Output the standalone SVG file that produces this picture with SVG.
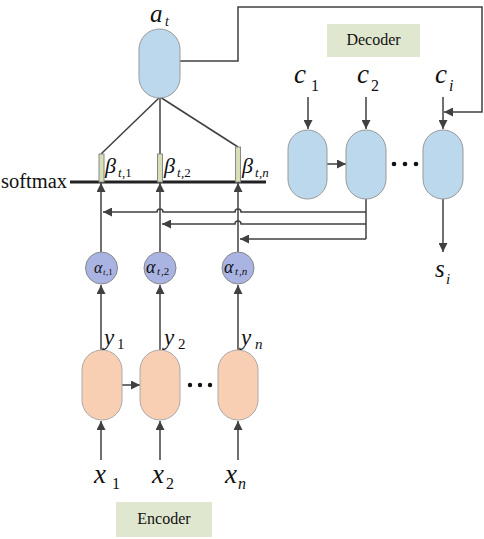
<svg xmlns="http://www.w3.org/2000/svg" width="484" height="539" viewBox="0 0 484 539">
<defs>
<marker id="ah" viewBox="0 0 10 10" refX="10" refY="5" markerWidth="9" markerHeight="9" markerUnits="userSpaceOnUse" orient="auto">
<path d="M0,0 L10,5 L0,10 Z" fill="#404040"/>
</marker>
</defs>
<style>
.ln{stroke:#404040;stroke-width:1.5;fill:none}
.enc{fill:#f9cfb3;stroke:#aaa;stroke-width:1}
.dec{fill:#bcd8ec;stroke:#999;stroke-width:1}
.alp{fill:#aab4e2;stroke:#888;stroke-width:1}
.bar{fill:#d6dfb5;stroke:#888;stroke-width:1}
.box{fill:#e0e7cf}
.m{font-family:"Liberation Serif",serif;font-style:italic;fill:#111}
.t{font-family:"Liberation Serif",serif;fill:#111}
.dot{fill:#111}
</style>
<rect width="484" height="539" fill="#fff"/>

<g id="connectors">
<path class="ln" d="M160,97 L101,154"/>
<path class="ln" d="M160,97 L160,154"/>
<path class="ln" d="M160,97 L238,147"/>
<path class="ln" d="M180,61 H238 V7 H482 V112 H444" marker-end="url(#ah)"/>
<path d="M70,182 H266" stroke="#222" stroke-width="3"/>
<path class="ln" d="M101,252 V183" marker-end="url(#ah)"/>
<path class="ln" d="M160,252 V183" marker-end="url(#ah)"/>
<path class="ln" d="M238,252 V183" marker-end="url(#ah)"/>
<path class="ln" d="M366,199 V239"/>
<path class="ln" d="M366,212 H241 A3,3 0 0 0 235,212 H163 A3,3 0 0 0 157,212 H103" marker-end="url(#ah)"/>
<path class="ln" d="M366,224 H241 A3,3 0 0 0 235,224 H162" marker-end="url(#ah)"/>
<path class="ln" d="M366,239 H240" marker-end="url(#ah)"/>
<path class="ln" d="M101,350 V285" marker-end="url(#ah)"/>
<path class="ln" d="M160,350 V285" marker-end="url(#ah)"/>
<path class="ln" d="M238,350 V285" marker-end="url(#ah)"/>
<path class="ln" d="M101,460 V421" marker-end="url(#ah)"/>
<path class="ln" d="M160,460 V421" marker-end="url(#ah)"/>
<path class="ln" d="M238,460 V421" marker-end="url(#ah)"/>
<path class="ln" d="M122,385 H140" marker-end="url(#ah)"/>
<path class="ln" d="M308,97 V129" marker-end="url(#ah)"/>
<path class="ln" d="M366,97 V129" marker-end="url(#ah)"/>
<path class="ln" d="M443,97 V129" marker-end="url(#ah)"/>
<path class="ln" d="M327,164 H346" marker-end="url(#ah)"/>
<path class="ln" d="M443,199 V252" marker-end="url(#ah)"/>
</g>

<g id="node-at">
<rect x="139" y="29" width="41" height="69" rx="20.5" class="dec"/>
<text x="150" y="22" class="m" font-size="25">a</text>
<text x="165" y="26" class="m" font-size="14">t</text>
</g>

<g id="softmax">
<text x="1" y="188" class="t" font-size="20.5">softmax</text>
</g>

<g id="beta1">
<rect x="99" y="154" width="5" height="28" class="bar"/>
<text x="105" y="173" class="m" font-size="22">β</text>
<text x="118" y="177" class="m" font-size="13">t</text>
<text x="122" y="177" class="t" font-size="13">,1</text>
</g>
<g id="beta2">
<rect x="157.5" y="154" width="5" height="28" class="bar"/>
<text x="164" y="173" class="m" font-size="22">β</text>
<text x="177" y="177" class="m" font-size="13">t</text>
<text x="181" y="177" class="t" font-size="13">,2</text>
</g>
<g id="beta3">
<rect x="235.5" y="147" width="5" height="35" class="bar"/>
<text x="242" y="173" class="m" font-size="22">β</text>
<text x="255" y="177" class="m" font-size="13">t</text>
<text x="259" y="177" class="m" font-size="13">,n</text>
</g>

<g id="alpha1">
<circle cx="101.5" cy="268" r="16" class="alp"/>
<text x="94" y="273" class="m" font-size="16">α</text>
<text x="103" y="275" class="m" font-size="9">t</text>
<text x="106" y="275" class="t" font-size="9">,1</text>
</g>
<g id="alpha2">
<circle cx="160" cy="268" r="16" class="alp"/>
<text x="146" y="273" class="m" font-size="18">α</text>
<text x="157" y="275" class="m" font-size="11">t</text>
<text x="161" y="275" class="t" font-size="11">,2</text>
</g>
<g id="alpha3">
<circle cx="238" cy="268" r="16" class="alp"/>
<text x="224" y="273" class="m" font-size="18">α</text>
<text x="235" y="275" class="m" font-size="11">t</text>
<text x="239" y="275" class="m" font-size="11">,n</text>
</g>

<g id="enc1">
<rect x="82" y="350" width="40" height="70" rx="20" class="enc"/>
<text x="104" y="345" class="m" font-size="23">y</text>
<text x="117" y="349" class="t" font-size="15">1</text>
</g>
<g id="enc2">
<rect x="140" y="350" width="40" height="70" rx="20" class="enc"/>
<text x="164" y="345" class="m" font-size="23">y</text>
<text x="178" y="349" class="t" font-size="15">2</text>
</g>
<g id="enc-dots">
<circle cx="190" cy="385" r="2.2" class="dot"/>
<circle cx="200" cy="385" r="2.2" class="dot"/>
<circle cx="210" cy="385" r="2.2" class="dot"/>
</g>
<g id="enc3">
<rect x="218" y="350" width="40" height="70" rx="20" class="enc"/>
<text x="241" y="345" class="m" font-size="23">y</text>
<text x="255" y="349" class="m" font-size="15">n</text>
</g>

<g id="x-labels">
<text x="94" y="483" class="m" font-size="27">x</text>
<text x="112" y="489" class="t" font-size="16">1</text>
<text x="152" y="483" class="m" font-size="27">x</text>
<text x="166" y="489" class="t" font-size="16">2</text>
<text x="225" y="483" class="m" font-size="27">x</text>
<text x="238" y="489" class="m" font-size="16">n</text>
</g>

<g id="encoder-label">
<rect x="116" y="502" width="96" height="35" class="box"/>
<text x="164" y="524" class="t" font-size="16" text-anchor="middle">Encoder</text>
</g>

<g id="decoder-label">
<rect x="327" y="24" width="93" height="33" class="box"/>
<text x="373.5" y="45" class="t" font-size="16" text-anchor="middle">Decoder</text>
</g>

<g id="dec1">
<rect x="288" y="130" width="39" height="69" rx="19.5" class="dec"/>
<text x="294" y="83" class="m" font-size="27">c</text>
<text x="311" y="91" class="t" font-size="16">1</text>
</g>
<g id="dec2">
<rect x="346" y="130" width="40" height="69" rx="20" class="dec"/>
<text x="357" y="83" class="m" font-size="27">c</text>
<text x="371" y="91" class="t" font-size="16">2</text>
</g>
<g id="dec-dots">
<circle cx="394" cy="164" r="2.3" class="dot"/>
<circle cx="405" cy="164" r="2.3" class="dot"/>
<circle cx="416" cy="164" r="2.3" class="dot"/>
</g>
<g id="dec3">
<rect x="423" y="130" width="40" height="69" rx="20" class="dec"/>
<text x="435" y="83" class="m" font-size="27">c</text>
<text x="449" y="91" class="m" font-size="16">i</text>
</g>
<g id="out-label">
<text x="435" y="277" class="m" font-size="25">s</text>
<text x="446" y="284" class="m" font-size="15">i</text>
</g>
</svg>
